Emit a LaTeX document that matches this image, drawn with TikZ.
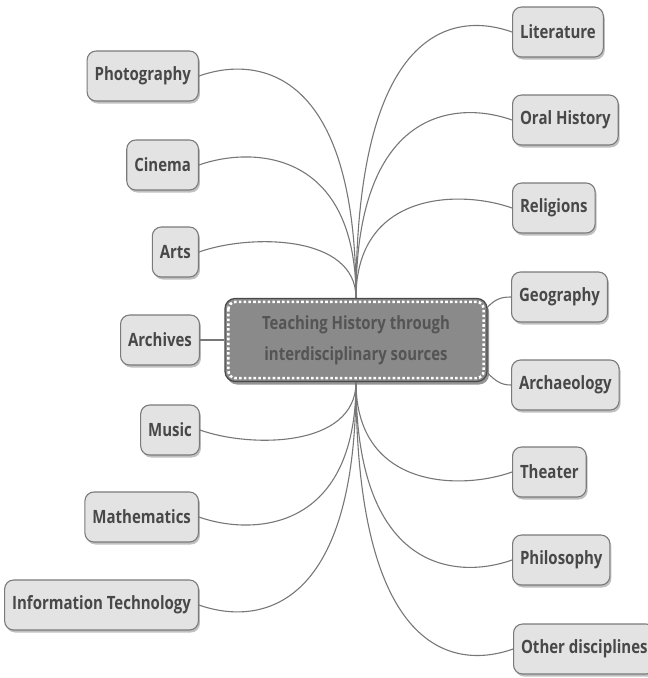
\documentclass[tikz,border=0pt]{standalone}
\usepackage{fontspec}
\newfontfamily\nodefont{Open Sans}[FakeStretch=0.82]
\usetikzlibrary{shadows,calc}
\definecolor{boxfill}{HTML}{E3E3E3}
\definecolor{boxline}{HTML}{7A7A7A}
\definecolor{boxtext}{HTML}{484848}
\definecolor{cfill}{HTML}{8A8A8A}
\definecolor{cline}{HTML}{4A4A4A}
\definecolor{ctext}{HTML}{545454}
\definecolor{linkc}{HTML}{777777}
\begin{document}
\begin{tikzpicture}[x=1pt,y=-1pt,
  leaf/.style={draw=boxline, line width=1.1pt, fill=boxfill, rounded corners=9pt,
    minimum height=50pt, inner xsep=7.5pt, text=boxtext,
    font=\nodefont\bfseries\fontsize{18.3}{22}\selectfont,
    drop shadow={shadow xshift=1.5pt, shadow yshift=-2.5pt, fill=black!45, opacity=0.55}},
  lleaf/.style={leaf, anchor=east},
  rleaf/.style={leaf, anchor=west},
  hub/.style={draw=cline, line width=1.2pt, fill=cfill, rounded corners=10pt,
    minimum width=262pt, minimum height=83pt, align=center, text=ctext,
    font=\nodefont\bfseries\fontsize{18.2}{31}\selectfont,
    drop shadow={shadow xshift=2pt, shadow yshift=-3pt, fill=black!70, opacity=0.6}},
  link/.style={draw=linkc, line width=1.1pt}]
\useasboundingbox (0,0) rectangle (648,678);
\node[hub] (c) at (356,340) {Teaching History through\\interdisciplinary sources};
\draw[white, line width=2.6pt, dash pattern=on 2.6pt off 2.2pt, rounded corners=7pt]
  ($(c.north west)+(4,4)$) rectangle ($(c.south east)+(-4,-4)$);
% left
\node[lleaf] (photo) at (199,76) {Photography};
\node[lleaf] (cine) at (199,165) {Cinema};
\node[lleaf] (arts) at (199,252) {Arts};
\node[lleaf] (arch) at (200,340) {Archives};
\node[lleaf] (music) at (200,430) {Music};
\node[lleaf] (math) at (199,517) {Mathematics};
\node[lleaf] (it) at (199,605) {Information Technology};
% right
\node[rleaf] (lit) at (512,32) {Literature};
\node[rleaf] (oral) at (512,120) {Oral History};
\node[rleaf] (rel) at (512,208) {Religions};
\node[rleaf] (geo) at (511,297) {Geography};
\node[rleaf] (archae) at (511,385) {Archaeology};
\node[rleaf] (thea) at (512,472) {Theater};
\node[rleaf] (phil) at (512,560) {Philosophy};
\node[rleaf] (other) at (513,649) {Other disciplines};
% upper links
\foreach \n in {photo,cine,arts}{
  \draw[link] (c.north) .. controls ($(c.north |- \n.east)+(0,-18)$) and ($(\n.east)+(50,-18)$) .. (\n.east);
}
\foreach \n in {lit,oral,rel}{
  \draw[link] (c.north) .. controls ($(c.north |- \n.west)+(0,-18)$) and ($(\n.west)+(-50,-18)$) .. (\n.west);
}
% lower links
\foreach \n in {music,math,it}{
  \draw[link] (c.south) .. controls ($(c.south |- \n.east)+(0,18)$) and ($(\n.east)+(50,18)$) .. (\n.east);
}
\foreach \n in {thea,phil,other}{
  \draw[link] (c.south) .. controls ($(c.south |- \n.west)+(0,18)$) and ($(\n.west)+(-50,18)$) .. (\n.west);
}
\draw[link] (arch.east) -- (c.west);
\draw[link] ($(c.east)+(0,-33)$) .. controls +(8,-8) and +(-10,0) .. (geo.west);
\draw[link] ($(c.east)+(0,33)$) .. controls +(8,8) and +(-10,0) .. (archae.west);
\end{tikzpicture}
\end{document}
